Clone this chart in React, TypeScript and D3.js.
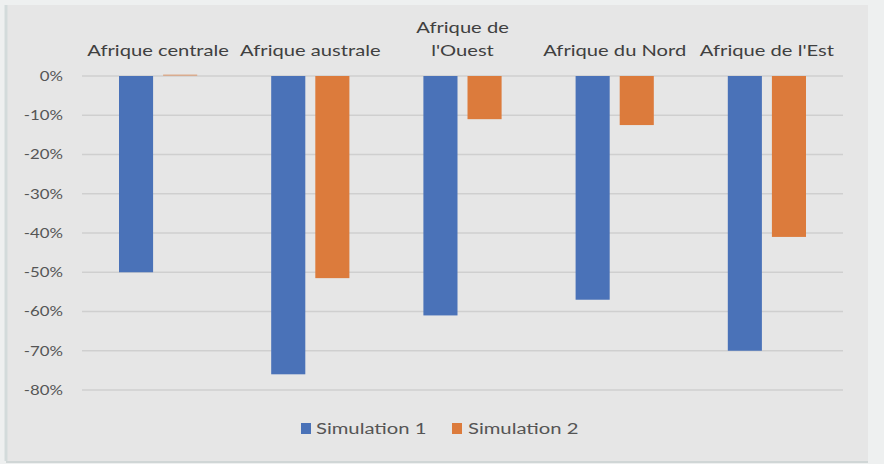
import React from "react";
import * as d3 from "d3";

const categories = ["Afrique centrale", "Afrique australe", "Afrique de l'Ouest", "Afrique du Nord", "Afrique de l'Est"];
const categoryLines = [["Afrique centrale"], ["Afrique australe"], ["Afrique de", "l'Ouest"], ["Afrique du Nord"], ["Afrique de l'Est"]];
const series = ["Simulation 1", "Simulation 2"];
const sim1 = [-0.50, -0.76, -0.61, -0.57, -0.70];
const sim2 = [0.004, -0.515, -0.11, -0.125, -0.41];
const yTicks = [0, -0.1, -0.2, -0.3, -0.4, -0.5, -0.6, -0.7, -0.8];
const colors = ["#4a72b8", "#dc7b3c"];

const W = 884, H = 464;
const M = { left: 82, right: 41, top: 76, bottom: 74 };

function SText({ x, y, sx, anchor, size, fill, children, dy }: any) {
  return (
    <text transform={`translate(${x},${y}) scale(${sx},1)`} textAnchor={anchor} fontFamily="Lato, 'Open Sans', sans-serif" fontSize={size} fill={fill} dy={dy}>
      {children}
    </text>
  );
}

export default function App() {
  const values = [sim1, sim2];
  const x = d3.scaleBand<string>().domain(categories).range([M.left, W - M.right]).paddingInner(0).paddingOuter(0);
  const x1 = d3.scaleBand<string>().domain(series).range([37, x.bandwidth() - 37]).paddingInner(0.227);
  const y = d3.scaleLinear().domain([0, -0.8]).range([M.top, 390]);
  const fmt = d3.format(".0%");
  return (
    <svg width={W} height={H} style={{ position: "absolute", left: 0, top: 0, display: "block" }}>
      <rect x={0} y={0} width={W} height={H} fill="#eef0f0" />
      <rect x={6} y={5} width={862} height={456} fill="#e6e6e6" />
      <line x1={6} x2={6} y1={5} y2={461} stroke="#d3dbdb" strokeWidth={3} />
      <line x1={6} x2={868} y1={462} y2={462} stroke="#d0d6d6" strokeWidth={2} />
      {yTicks.map((t) => (
        <g key={t}>
          <line x1={M.left} x2={W - M.right} y1={y(t)} y2={y(t)} stroke="#cfcfcf" strokeWidth={1.5} />
          <SText x={63} y={y(t)} dy="0.35em" anchor="end" size={14} sx={1.2} fill="#555">
            {fmt(t).replace("−", "-")}
          </SText>
        </g>
      ))}
      {categories.map((c, i) => (
        <g key={c}>
          {series.map((s, j) => {
            const v = values[j][i];
            const y0 = y(Math.max(0, v));
            const y1 = y(Math.min(0, v));
            return (
              <rect key={s} x={(x(c) as number) + (x1(s) as number)} y={y0} width={x1.bandwidth()} height={Math.max(1.5, y1 - y0)} fill={colors[j]} opacity={v > 0 && v < 0.01 ? 0.45 : 1} />
            );
          })}
          {categoryLines[i].map((ln, k, arr) => (
            <SText key={ln} x={(x(c) as number) + x.bandwidth() / 2} y={56 - (arr.length - 1 - k) * 23} anchor="middle" size={15.5} sx={1.3} fill="#404040">
              {ln}
            </SText>
          ))}
        </g>
      ))}
      <g>
        <rect x={301} y={423} width={10} height={11} fill={colors[0]} />
        <SText x={316} y={434} anchor="start" size={15} sx={1.35} fill="#555">{series[0]}</SText>
        <rect x={452} y={423} width={10} height={11} fill={colors[1]} />
        <SText x={468} y={434} anchor="start" size={15} sx={1.35} fill="#555">{series[1]}</SText>
      </g>
    </svg>
  );
}
